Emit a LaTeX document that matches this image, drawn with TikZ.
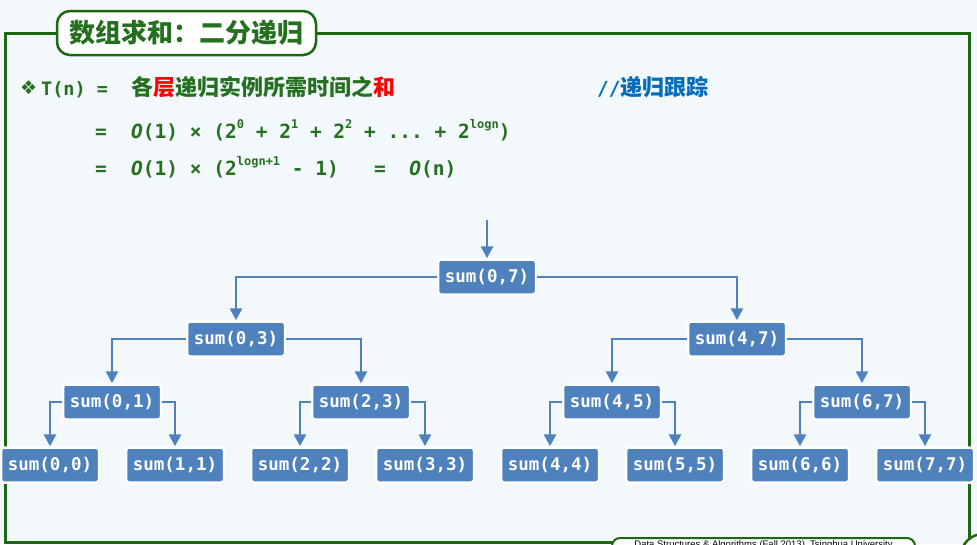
\documentclass[tikz,border=0pt]{standalone}
\usepackage{fontspec}
\usepackage{xcolor}
\setmonofont{DejaVu Sans Mono}
\newfontfamily\cjk{Noto Sans CJK SC}
\newfontfamily\symfont{DejaVu Sans}
\newfontfamily\footfont{Liberation Sans}
\usetikzlibrary{arrows.meta,shadows}
\definecolor{bgblue}{RGB}{243,248,252}
\definecolor{framegreen}{RGB}{28,104,16}
\definecolor{textgreen}{RGB}{36,112,30}
\definecolor{nodeblue}{RGB}{79,129,189}
\definecolor{noteblue}{RGB}{0,108,190}
\newcommand{\up}[1]{\raisebox{0.5em}{\fontsize{12}{12}\selectfont #1}}
\newcommand{\bigO}{{\itshape O}}

\begin{document}
\begin{tikzpicture}[x=1pt,y=-1pt,
  call/.style={draw=white,line width=2.5pt,fill=nodeblue,rounded corners=3pt,text=white,
    font=\ttfamily\bfseries\fontsize{17.5}{20}\selectfont,minimum width=98pt,minimum height=35pt,
    inner sep=0pt,drop shadow={shadow xshift=1.2pt,shadow yshift=-1.2pt,opacity=0.25}},
  link/.style={draw=nodeblue,line width=2.8pt,-{Triangle[width=12pt,length=12pt]}},
  txt/.style={anchor=base west,inner sep=0pt,text=textgreen},
  mono/.style={font=\ttfamily\bfseries\fontsize{19.5}{20}\selectfont},
  frame/.style={draw=framegreen,line width=3pt}]
\useasboundingbox (0,0) rectangle (977,544);
\clip (0,0) rectangle (977,544);
\fill[bgblue] (0,0) rectangle (977,544);

% frame and title
\draw[frame] (185,33) -- (5,33) -- (5,542) -- (612,542);
\draw[frame] (185,33) -- (969,33) -- (969,542);
\node[draw=framegreen,line width=2.5pt,fill=white,rounded corners=13pt,minimum width=259pt,
  minimum height=44pt,inner sep=0pt,text=textgreen,font=\cjk\bfseries\fontsize{26}{26}\selectfont]
  (head) at (186.5,33) {数组求和：二分递归};
\node[draw=framegreen,line width=2pt,fill=white,rounded corners=8pt,minimum width=303pt,
  anchor=north,inner sep=3pt,font=\footfont\fontsize{9.5}{10}\selectfont]
  (footer) at (763.5,537) {Data Structures \& Algorithms (Fall 2013), Tsinghua University};
\node[draw=framegreen,line width=2.5pt,fill=white,circle,minimum size=44pt] (page) at (983,556) {};

% T(n)
\node[txt,font=\symfont\fontsize{19}{19}\selectfont] (bul) at (20,94) {❖};
\node[txt,font=\ttfamily\bfseries\fontsize{18.5}{18}\selectfont] (tn) at (41,95) {T(n) =};
\node[txt,font=\cjk\bfseries\fontsize{22}{22}\selectfont] (levels) at (131,95)
  {各{\color{red}层}递归实例所需时间之{\color{red}和}};
\node[txt,text=noteblue,font=\fontsize{22}{22}\selectfont] (note) at (597,95)
  {{\ttfamily\bfseries\fontsize{19.5}{20}\selectfont //}{\cjk\bfseries 递归跟踪}};
\node[txt,mono] (eq1) at (95,138) {=};
\node[txt,mono] (line2) at (131,138) {\bigO(1) × (2\up{0} + 2\up{1} + 2\up{2} + ... + 2\up{logn})};
\node[txt,mono] (eq2) at (95,175) {=};
\node[txt,mono] (line3) at (131,175) {\bigO(1) × (2\up{logn+1} - 1)\ \ \ =\ \ \bigO(n)};

% recursion tree
\coordinate (in) at (487,220);
\node[call] (s07) at (487,277) {sum(0,7)};

\node[call] (s03) at (236,339) {sum(0,3)};
\node[call] (s47) at (737,339) {sum(4,7)};

\node[call] (s01) at (112,402) {sum(0,1)};
\node[call] (s23) at (361,402) {sum(2,3)};
\node[call] (s45) at (612,402) {sum(4,5)};
\node[call] (s67) at (862,402) {sum(6,7)};

\node[call] (s00) at (50,465) {sum(0,0)};
\node[call] (s11) at (175,465) {sum(1,1)};
\node[call] (s22) at (300,465) {sum(2,2)};
\node[call] (s33) at (425,465) {sum(3,3)};
\node[call] (s44) at (550,465) {sum(4,4)};
\node[call] (s55) at (675,465) {sum(5,5)};
\node[call] (s66) at (800,465) {sum(6,6)};
\node[call] (s77) at (925,465) {sum(7,7)};

\draw[link] (in) -- (s07.north);
\draw[link] (s07.west) -| (s03.north);
\draw[link] (s07.east) -| (s47.north);

\draw[link] (s03.west) -| (s01.north);
\draw[link] (s03.east) -| (s23.north);
\draw[link] (s47.west) -| (s45.north);
\draw[link] (s47.east) -| (s67.north);

\draw[link] (s01.west) -| (s00.north);
\draw[link] (s01.east) -| (s11.north);
\draw[link] (s23.west) -| (s22.north);
\draw[link] (s23.east) -| (s33.north);
\draw[link] (s45.west) -| (s44.north);
\draw[link] (s45.east) -| (s55.north);
\draw[link] (s67.west) -| (s66.north);
\draw[link] (s67.east) -| (s77.north);

\end{tikzpicture}
\end{document}
